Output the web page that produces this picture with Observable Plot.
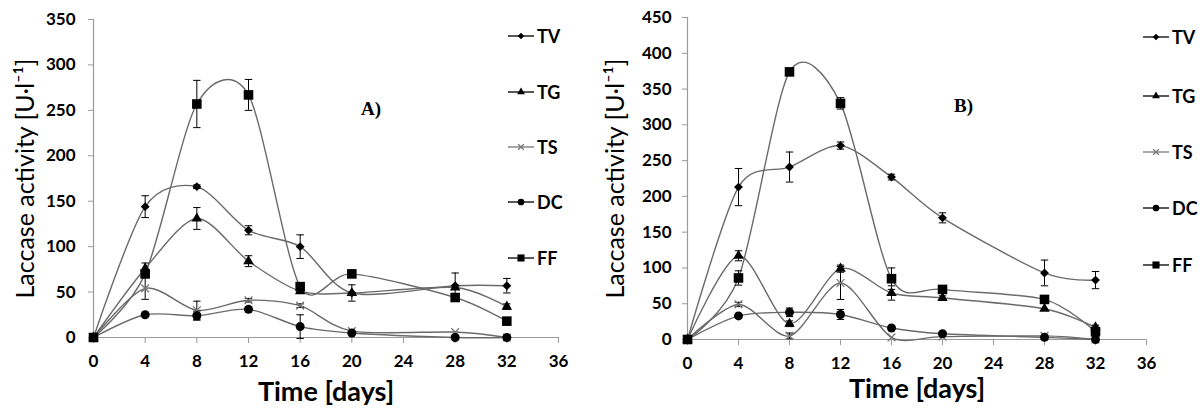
<!DOCTYPE html>
<html><head><meta charset="utf-8">
<script src="https://cdn.jsdelivr.net/npm/d3@7"></script>
<script src="https://cdn.jsdelivr.net/npm/@observablehq/plot@0.6"></script>
<style>
body{margin:0;background:#fff;width:1203px;height:409px;overflow:hidden;position:relative;font-family:Lato,"Open Sans",sans-serif;}
.panel{position:absolute;top:0;}
.leg{position:absolute;display:flex;align-items:center;font-weight:bold;font-size:18px;color:#000;height:20px;}
.leg svg{display:block;margin-right:3px;}
.tag{position:absolute;font-family:"Liberation Serif","DejaVu Serif",serif;font-weight:bold;font-size:19px;}
</style></head><body>
<div id="A" class="panel" style="left:0"></div>
<div id="B" class="panel" style="left:600px"></div>
<div class="tag" style="left:361px;top:98px">A)</div>
<div class="tag" style="left:954px;top:95px">B)</div>
<script>
const days = [0, 4, 8, 12, 16, 20, 28, 32];
const seriesNames = ["TV", "TG", "TS", "DC", "FF"];
const xTicks = [0, 4, 8, 12, 16, 20, 24, 28, 32, 36];
const yTicksA = [0, 50, 100, 150, 200, 250, 300, 350];
const yTicksB = [0, 50, 100, 150, 200, 250, 300, 350, 400, 450];

// Panel A values and error (±)
const TV_A = [0, 144, 166, 118, 100, 49, 57, 57];
const TG_A = [0, 76, 131, 84, 51, 49, 55, 34];
const TS_A = [0, 54, 30, 41, 35, 7, 6, 0];
const DC_A = [0, 25, 24, 31, 12, 5, 0, 0];
const FF_A = [0, 70, 257, 267, 56, 70, 44, 18];
const errTV_A = [0, 12, 2, 5, 13, 0, 14, 8];
const errTG_A = [0, 6, 12, 6, 0, 9, 0, 3];
const errTS_A = [0, 12, 10, 2, 2, 0, 0, 0];
const errDC_A = [0, 0, 5, 3, 13, 0, 0, 0];
const errFF_A = [0, 4, 26, 17, 2, 0, 0, 0];

// Panel B values and error (±)
const TV_B = [0, 213, 241, 271, 227, 170, 93, 83];
const TG_B = [0, 117, 22, 99, 65, 58, 43, 17];
const TS_B = [0, 49, 5, 79, 3, 4, 5, 0];
const DC_B = [0, 33, 38, 35, 16, 8, 3, 0];
const FF_B = [0, 86, 374, 330, 85, 70, 56, 11];
const errTV_B = [0, 26, 21, 5, 4, 7, 18, 12];
const errTG_B = [0, 7, 4, 5, 10, 3, 0, 3];
const errTS_B = [0, 3, 4, 23, 0, 0, 0, 0];
const errDC_B = [0, 0, 6, 7, 0, 0, 0, 0];
const errFF_B = [0, 10, 0, 8, 15, 0, 0, 0];

const styleBySeries = {
  TV: {symbol: "diamond2", r: 4, fill: "#000", stroke: "none"},
  TG: {symbol: "triangle", r: 3.9, fill: "#000", stroke: "none"},
  TS: {symbol: "times", r: 3.6, fill: "none", stroke: "#777"},
  DC: {symbol: "circle", r: 4.5, fill: "#000", stroke: "none"},
  FF: {symbol: "square", r: 5.4, fill: "#000", stroke: "none"}
};
const legendLine = {TV: "#000", TG: "#000", TS: "#777", DC: "#000", FF: "#000"};

function rowsOf(vals, errs) {
  const rows = [];
  seriesNames.forEach((s, k) => vals[k].forEach((v, i) => rows.push({series: s, day: days[i], value: v, err: errs[k][i]})));
  return rows;
}
const capSymbol = {draw(ctx, size) { const w = Math.sqrt(size) / 2; ctx.moveTo(-w, 0); ctx.lineTo(w, 0); }};

function panel(rows, yMax, yTicks, o) {
  const eb = rows.filter(d => d.err > 0);
  const marks = [
    Plot.ruleY([0], {stroke: "#9a9a9a", strokeWidth: 1.2}),
    Plot.ruleX([0], {stroke: "#9a9a9a", strokeWidth: 1.2}),
    Plot.axisX({ticks: xTicks, tickSize: 6, tickPadding: 11, stroke: "#9a9a9a", fill: "#000", fontSize: 17}),
    Plot.axisY({ticks: yTicks, tickSize: 5, tickPadding: o.yPad, stroke: "#9a9a9a", fill: "#000", fontSize: 17}),
    Plot.line(rows, {x: "day", y: "value", z: "series", curve: "cardinal", tension: 0.15, stroke: "#6a6a6a", strokeWidth: 1.4}),
    Plot.ruleX(eb, {x: "day", y1: d => d.value - d.err, y2: d => d.value + d.err, stroke: "#000", strokeWidth: 1}),
    Plot.dot(eb, {x: "day", y: d => d.value - d.err, symbol: capSymbol, r: 4.2, stroke: "#000", strokeWidth: 1}),
    Plot.dot(eb, {x: "day", y: d => d.value + d.err, symbol: capSymbol, r: 4.2, stroke: "#000", strokeWidth: 1})
  ];
  for (const s of seriesNames) {
    const st = styleBySeries[s];
    marks.push(Plot.dot(rows.filter(d => d.series === s), {x: "day", y: "value", symbol: st.symbol, r: st.r, fill: st.fill, stroke: st.stroke, strokeWidth: 1.3}));
  }
  marks.push(Plot.text(["Time [days]"], {frameAnchor: "bottom", lineAnchor: "middle", dy: o.xLabelDy, fontSize: 27, fill: "#000"}));
  marks.push(Plot.text(["Laccase activity [U·l⁻¹]"], {frameAnchor: "left", textAnchor: "middle", lineAnchor: "middle", dx: o.yLabelDx, rotate: -90, fontSize: 25, fill: "#000"}));
  const svg = Plot.plot({
    width: o.width, height: 409,
    marginLeft: o.ml, marginRight: o.mr, marginTop: o.mt, marginBottom: o.mb,
    x: {domain: [0, 36], label: null},
    y: {domain: [0, yMax], label: null},
    style: {fontFamily: "Lato, 'Open Sans', sans-serif", background: "transparent", overflow: "visible"},
    marks
  });
  svg.querySelectorAll("text").forEach(t => {
    t.style.fontWeight = t.textContent.startsWith("Laccase") ? "400" : "700";
  });
  return svg;
}

const A = panel(rowsOf([TV_A, TG_A, TS_A, DC_A, FF_A], [errTV_A, errTG_A, errTS_A, errDC_A, errFF_A]), 350, yTicksA,
  {width: 601, ml: 93, mr: 43, mt: 19, mb: 72, yPad: 13, xLabelDy: 55, yLabelDx: -68});
const B = panel(rowsOf([TV_B, TG_B, TS_B, DC_B, FF_B], [errTV_B, errTG_B, errTS_B, errDC_B, errFF_B]), 450, yTicksB,
  {width: 603, ml: 87, mr: 57, mt: 17, mb: 70, yPad: 11, xLabelDy: 50, yLabelDx: -72});
document.getElementById("A").appendChild(A);
document.getElementById("B").appendChild(B);

function legend(x, ys) {
  seriesNames.forEach((s, i) => {
    const st = styleBySeries[s];
    const div = document.createElement("div");
    div.className = "leg";
    div.style.left = x + "px";
    div.style.top = (ys[i] - 10) + "px";
    const svg = d3.create("svg").attr("width", 26).attr("height", 20);
    svg.append("line").attr("x1", 0).attr("x2", 26).attr("y1", 10).attr("y2", 10).attr("stroke", legendLine[s]).attr("stroke-width", 1.3);
    const symMap = {diamond2: d3.symbolDiamond2, triangle: d3.symbolTriangle, times: d3.symbolTimes, circle: d3.symbolCircle, square: d3.symbolSquare};
    const size = Math.PI * st.r * st.r * 0.55;
    svg.append("path").attr("transform", "translate(13,10)").attr("d", d3.symbol(symMap[st.symbol], size)())
      .attr("fill", st.fill).attr("stroke", st.stroke === "none" ? "none" : st.stroke).attr("stroke-width", 1.3);
    div.appendChild(svg.node());
    const t = document.createElement("span");
    t.textContent = s;
    div.appendChild(t);
    document.body.appendChild(div);
  });
}
legend(508, [36, 92, 147, 202, 258]);
legend(1143, [37, 96, 152, 208, 265]);
</script>
</body></html>
